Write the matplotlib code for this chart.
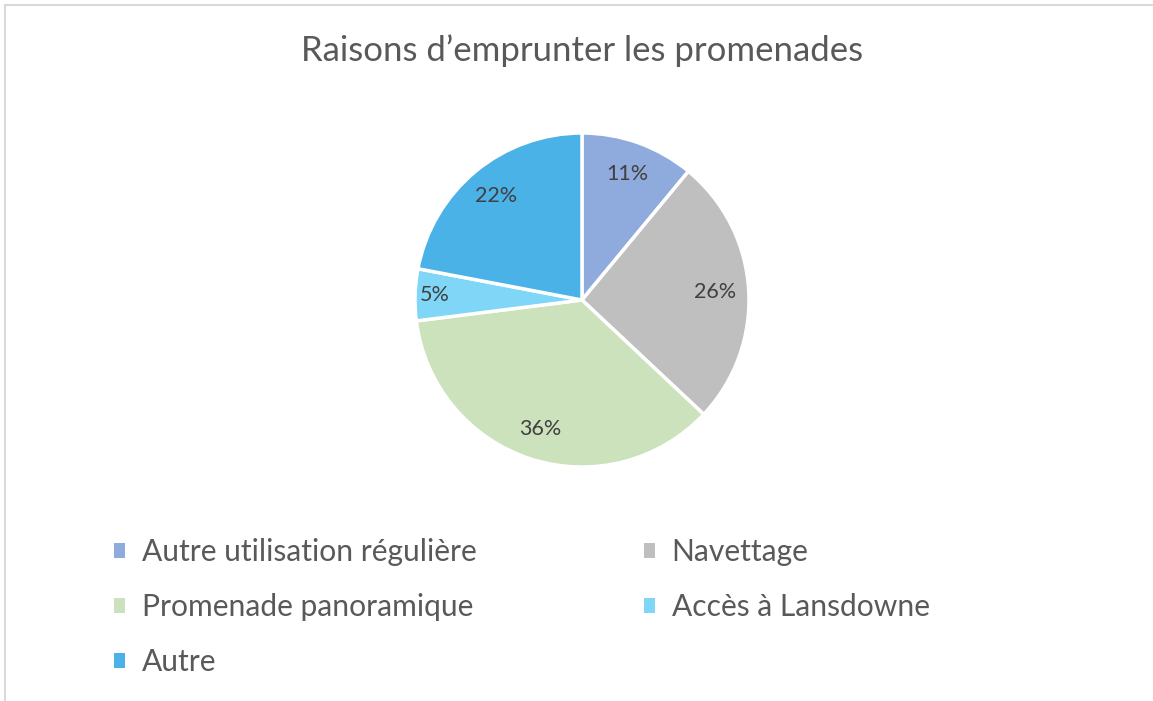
import matplotlib.pyplot as plt
import numpy as np
from matplotlib.patches import Patch, Rectangle

# Données du graphique
categories = ['Autre utilisation régulière', 'Navettage', 'Promenade panoramique',
              'Accès à Lansdowne', 'Autre']
pourcentages = [11, 26, 36, 5, 22]
couleurs = ['#8FAADC', '#BFBFBF', '#CBE2BC', '#7FD6F7', '#4BB2E8']
titre = 'Raisons d\u2019emprunter les promenades'

plt.rcParams['font.family'] = ['Lato', 'DejaVu Sans']

W, H = 1153, 701
fig = plt.figure(figsize=(W / 100, H / 100), dpi=100)
fig.patch.set_facecolor('white')

# cadre gris clair du graphique
fig.patches.append(Rectangle((5 / W, -0.05), 1.1, (H - 5) / H + 0.05, transform=fig.transFigure,
                             fill=False, edgecolor='#D9D9D9', linewidth=1.5))

cx, cy, r = 582, 300, 167
ax = fig.add_axes([(cx - r) / W, (H - cy - r) / H, 2 * r / W, 2 * r / H])
wedges, _ = ax.pie(pourcentages, colors=couleurs, startangle=90, counterclock=False,
                   wedgeprops=dict(edgecolor='white', linewidth=2.5))
ax.set_xlim(-1, 1)
ax.set_ylim(-1, 1)
ax.set_aspect('equal')

# étiquettes de pourcentage
dist = [0.80, 0.80, 0.81, 0.88, 0.81]
cumul = np.cumsum([0] + pourcentages[:-1])
for p, c, d in zip(pourcentages, cumul, dist):
    ang = np.deg2rad(90 - (c + p / 2) * 3.6)
    ax.text(d * np.cos(ang), d * np.sin(ang), f'{p}%', ha='center', va='center',
            fontsize=15.5, color='#404040')

fig.text(cx / W, 1 - 51 / H, titre, ha='center', va='center', fontsize=25, color='#595959')

handles = [Patch(facecolor=c, edgecolor='none') for c in couleurs]
ordre = [0, 2, 4, 1, 3]
leg = fig.legend([handles[i] for i in ordre], [categories[i] for i in ordre], ncol=2,
                 loc='upper left', bbox_to_anchor=(99 / W, 1 - 523 / H), frameon=False,
                 fontsize=21.6, labelcolor='#595959', handlelength=0.38, handleheight=0.38,
                 handletextpad=0.55, columnspacing=5.57, labelspacing=0.9, borderpad=0)

fig.savefig('out.png', dpi=100)
